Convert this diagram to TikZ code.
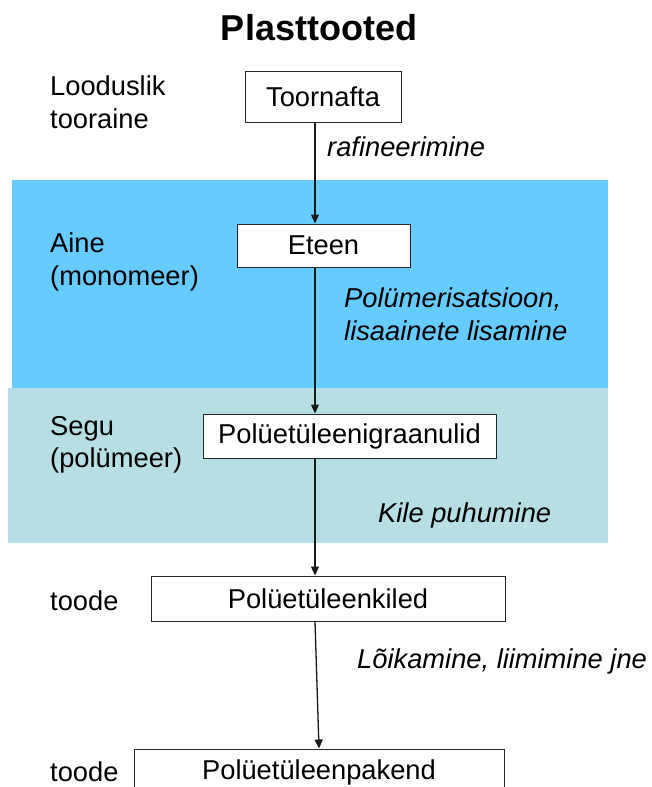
\documentclass[tikz,border=0pt]{standalone}
\usepackage{fontspec}
\setmainfont{Liberation Sans}
\usetikzlibrary{arrows.meta}
\definecolor{blueband}{RGB}{102,204,255}
\definecolor{tealband}{RGB}{183,222,228}
\begin{document}
\begin{tikzpicture}[x=1pt,y=1pt,
  box/.style={draw=black!85, line width=1pt, fill=white, inner sep=0pt, font=\fontsize{27.3}{32}\selectfont},
  lbl/.style={anchor=west, align=left, inner sep=0pt, font=\fontsize{27.3}{32.5}\selectfont},
  act/.style={anchor=west, align=left, inner sep=0pt, font=\fontsize{27.3}{32.5}\selectfont\itshape},
  flow/.style={line width=1.3pt, draw=black!90, -{Triangle[width=8pt,length=9pt]}}]
\useasboundingbox (0,0) rectangle (651,-787);
\clip (0,0) rectangle (651,-787);
% bands
\fill[blueband] (12,-180) rectangle (608,-388);
\fill[tealband] (8,-388) rectangle (608,-543);
% title
\node[font=\fontsize{36}{40}\selectfont\bfseries, inner sep=0pt] (title) at (319,-28) {Plasttooted};
% boxes
\node[box, minimum width=156pt, minimum height=51pt] (toor) at (323,-96.5) {Toornafta\hspace{18pt}};
\node[box, minimum width=173pt, minimum height=43pt] (eteen) at (323.5,-245.5) {Eteen};
\node[box, minimum width=293pt, minimum height=44pt] (gran) at (349.5,-436) {Polüetüleenigraanulid};
\node[box, minimum width=354pt, minimum height=45pt] (kiled) at (328,-598.5) {Polüetüleenkiled};
\node[box, minimum width=370pt, minimum height=46pt] (pakend) at (319,-772) {Polüetüleenpakend};
% left labels
\node[lbl] (l1) at (50,-102) {Looduslik\\tooraine};
\node[lbl] (l2) at (50,-262) {Aine\\(monomeer)};
\node[lbl] (l3) at (50,-445) {Segu\\(polümeer)};
\node[lbl] (l4) at (50,-601) {toode};
\node[lbl] (l5) at (50,-772) {toode};
% actions
\node[act] (a1) at (327,-147) {rafineerimine};
\node[act] (a2) at (344,-314) {Polümerisatsioon,\\lisaainete lisamine};
\node[act] (a3) at (378,-515) {Kile puhumine};
\node[act] (a4) at (357,-661) {Lõikamine, liimimine jne};
% arrows
\draw[flow] ([xshift=-8pt]toor.south) -- ([xshift=-8.5pt]eteen.north);
\draw[flow] ([xshift=-8.5pt]eteen.south) -- ([xshift=-34.5pt]gran.north);
\draw[flow] ([xshift=-34.5pt]gran.south) -- ([xshift=-13pt]kiled.north);
\draw[flow] ([xshift=-13pt]kiled.south) -- (pakend.north);
\end{tikzpicture}
\end{document}
